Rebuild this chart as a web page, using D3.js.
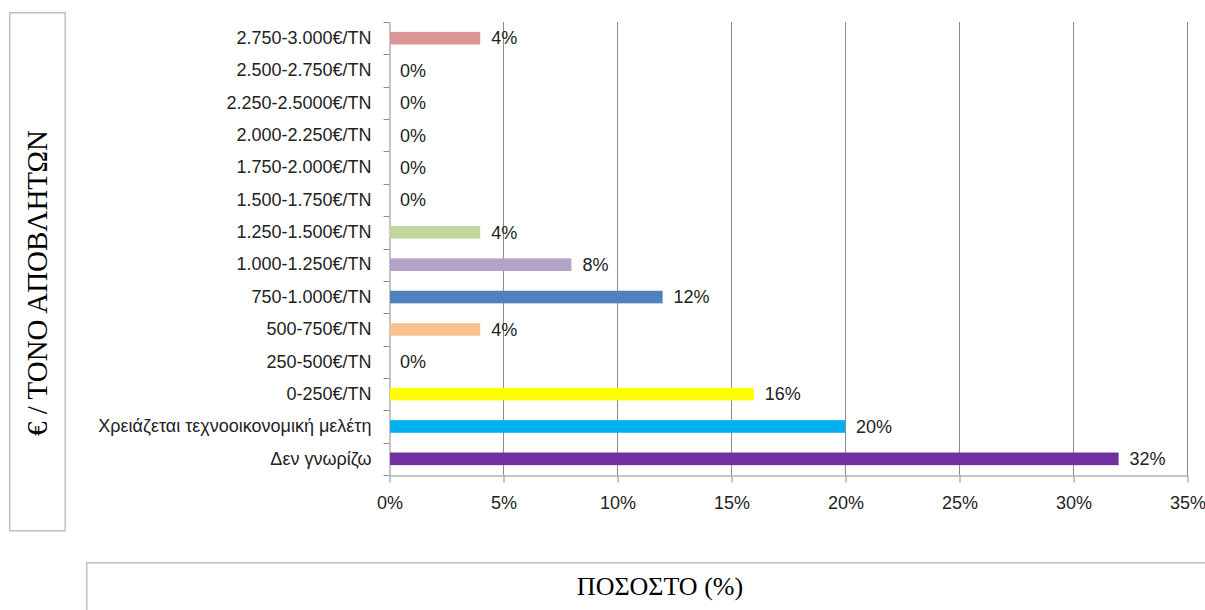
<!DOCTYPE html>
<html><head><meta charset="utf-8">
<script src="https://cdn.jsdelivr.net/npm/d3@7"></script>
<style>body{margin:0;background:#fff}svg{display:block}</style>
</head><body>
<svg id="c" width="1205" height="610"></svg>
<script>
const categories = ["2.750-3.000€/TN","2.500-2.750€/TN","2.250-2.5000€/TN","2.000-2.250€/TN","1.750-2.000€/TN","1.500-1.750€/TN","1.250-1.500€/TN","1.000-1.250€/TN","750-1.000€/TN","500-750€/TN","250-500€/TN","0-250€/TN","Χρειάζεται τεχνοοικονομική μελέτη","Δεν γνωρίζω"];
const values = [4,0,0,0,0,0,4,8,12,4,0,16,20,32];
const colors = ["#d99694","#d99694","#d99694","#d99694","#d99694","#d99694","#c3d69b","#b3a2c7","#4f81bd","#fac090","#ffffff","#ffff00","#00b0f0","#7030a0"];
const xTicks = [0,5,10,15,20,25,30,35];
const yTitle = "€ / ΤΟΝΟ ΑΠΟΒΛΗΤΩΝ";
const xTitle = "ΠΟΣΟΣΤΟ (%)";

const svg = d3.select("#c");
const pLeft = 389, pRight = 1187, pTop = 22, pBottom = 475;
const x = d3.scaleLinear().domain([0,35]).range([pLeft,pRight]);
const y = d3.scaleBand().domain(categories).range([pTop,pBottom]).paddingInner(0.61).paddingOuter(0.305);
const yb = d3.scaleBand().domain(categories).range([pTop,pBottom]);
const labelFont = "'Liberation Sans', Arial, sans-serif";
const fs = "18px";

// title boxes
svg.append("rect").attr("x",9.75).attr("y",12.75).attr("width",55.5).attr("height",518)
  .attr("fill","none").attr("stroke","#bfbfbf").attr("stroke-width",1.5);
svg.append("rect").attr("x",86.75).attr("y",562.75).attr("width",1200).attr("height",100)
  .attr("fill","none").attr("stroke","#bfbfbf").attr("stroke-width",1.5);

// gridlines
svg.append("g").selectAll("line").data(xTicks.slice(1)).join("line")
  .attr("x1",d=>x(d)+0.5).attr("x2",d=>x(d)+0.5).attr("y1",pTop).attr("y2",pBottom)
  .attr("stroke","#8c8c8c").attr("stroke-width",1);

// x axis
const xa = svg.append("g").attr("transform",`translate(0.5,${pBottom+0.5})`)
  .call(d3.axisBottom(x).tickValues(xTicks).tickFormat(d=>d+"%").tickSize(7).tickSizeOuter(0).tickPadding(14));
xa.select(".domain").attr("stroke","#8c8c8c");
xa.selectAll(".tick line").attr("stroke","#8c8c8c");
xa.selectAll("text").attr("font-family",labelFont).attr("font-size",fs).attr("fill","#222");

// y axis
const ya = svg.append("g").attr("transform",`translate(${pLeft+0.5},0)`)
  .call(d3.axisLeft(yb).tickSize(0).tickPadding(18));
ya.select(".domain").attr("stroke","#8c8c8c");
ya.selectAll("text").attr("font-family",labelFont).attr("font-size",fs).attr("fill","#222");
const bounds = categories.map(c=>yb(c)).concat([pBottom]);
ya.selectAll(".bt").data(bounds).join("line").attr("class","bt")
  .attr("x1",-6).attr("x2",0).attr("y1",d=>Math.round(d)+0.5).attr("y2",d=>Math.round(d)+0.5)
  .attr("stroke","#8c8c8c");

// bars
svg.append("g").selectAll("rect").data(categories).join("rect")
  .attr("x",x(0)+1).attr("y",d=>y(d))
  .attr("width",(d,i)=>Math.max(0,x(values[i])-x(0)-1)).attr("height",y.bandwidth())
  .attr("fill",(d,i)=>colors[i]);

// value labels
svg.append("g").selectAll("text").data(categories).join("text")
  .attr("x",(d,i)=>x(values[i])+11).attr("y",d=>y(d)+y.bandwidth()/2).attr("dy","0.35em")
  .attr("font-family",labelFont).attr("font-size",fs).attr("fill","#222")
  .text((d,i)=>values[i]+"%");

// axis titles
svg.append("text").attr("transform","translate(47,283) rotate(-90)").attr("text-anchor","middle")
  .attr("font-family","'Liberation Serif','Times New Roman',serif").attr("font-size","29px").attr("fill","#000")
  .text(yTitle);
svg.append("text").attr("x",660).attr("y",595).attr("text-anchor","middle")
  .attr("font-family","'Liberation Serif','Times New Roman',serif").attr("font-size","26px").attr("fill","#000")
  .text(xTitle);
</script>
</body></html>
